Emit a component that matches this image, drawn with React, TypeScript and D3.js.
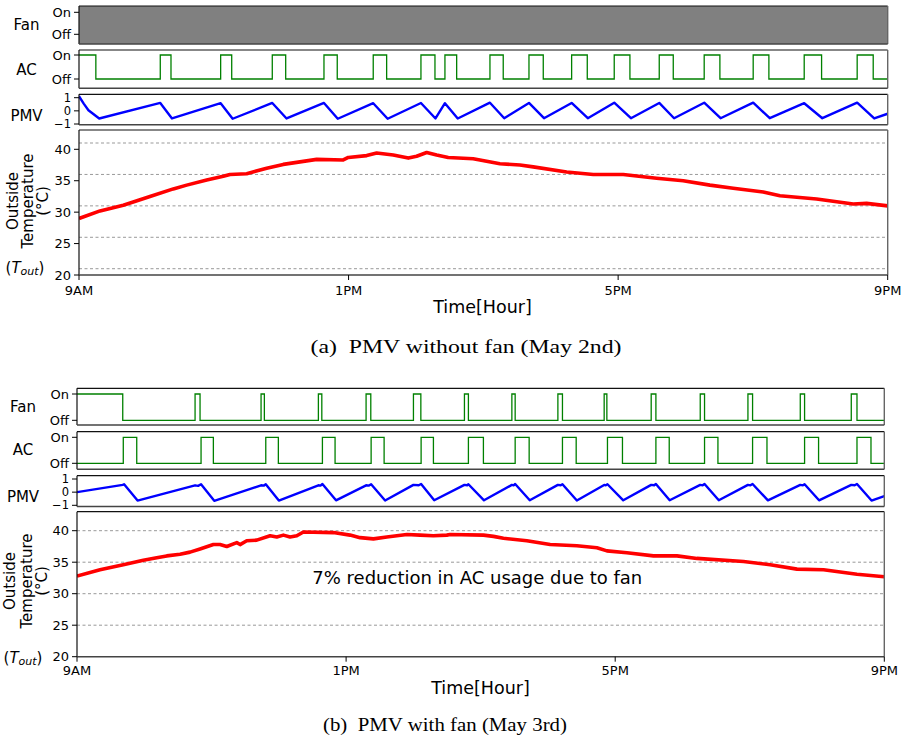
import React from 'react';
import * as d3 from 'd3';

// ---------- DATA ----------
const hourTicks = [0, 4, 8, 12];
const hourLabels = ['9AM', '1PM', '5PM', '9PM'];
const tempTicks = [20, 25, 30, 35, 40];
const pmvTicks = [1, 0, -1];
const pmvTickLabels = ['1', '0', '\u22121'];
const stateTicks = [1, 0];
const stateLabels = ['On', 'Off'];
const gridA = [21, 26, 31, 36, 41];
const gridB = [25, 30, 35, 40];

// (a) May 2nd, without fan  — [start hour, end hour] of ON periods
const fanOnA: number[][] = [[0, 12]];
const acOnA: number[][] = [
  [0, 0.25], [1.206, 1.365], [2.102, 2.266], [2.868, 3.067], [3.635, 3.832],
  [4.366, 4.565], [5.074, 5.282], [5.43, 5.604], [6.098, 6.295], [6.677, 6.889],
  [7.31, 7.542], [7.942, 8.175], [8.61, 8.818], [9.277, 9.51], [10.004, 10.237],
  [10.761, 11.019], [11.547, 11.785],
];
const pmvA: number[][] = [
  [0, 1.12], [0.07, 0.55], [0.14, 0.05], [0.3, -0.58], [1.206, 0.6], [1.38, -0.58],
  [2.102, 0.58], [2.28, -0.6], [2.868, 0.6], [3.08, -0.58], [3.635, 0.6], [3.84, -0.6],
  [4.366, 0.58], [4.58, -0.6], [5.074, 0.6], [5.29, -0.58], [5.43, 0.58], [5.62, -0.58],
  [6.098, 0.62], [6.31, -0.56], [6.677, 0.6], [6.9, -0.56], [7.31, 0.6], [7.55, -0.56],
  [7.942, 0.62], [8.19, -0.56], [8.61, 0.6], [8.83, -0.56], [9.277, 0.62], [9.52, -0.56],
  [10.004, 0.62], [10.25, -0.56], [10.761, 0.58], [11.03, -0.56], [11.547, 0.62],
  [11.8, -0.58], [12, -0.22],
];
const tempHoursA = [
  0, 0.312, 0.657, 1.053, 1.399, 1.598, 1.895, 2.141, 2.24, 2.488, 2.785, 3.031, 3.279,
  3.527, 3.921, 3.996, 4.269, 4.417, 4.663, 4.886, 5.01, 5.159, 5.307, 5.479, 5.85,
  6.246, 6.543, 6.74, 7.236, 7.631, 8.076, 8.571, 8.966, 9.362, 9.708, 10.153, 10.401,
  10.945, 11.488, 11.687, 12,
];
const tempValuesA = [
  29.0, 30.2, 31.1, 32.5, 33.7, 34.3, 35.1, 35.7, 36.0, 36.1, 37.0, 37.6, 38.0,
  38.4, 38.3, 38.7, 39.0, 39.4, 39.1, 38.6, 38.9, 39.5, 39.1, 38.7, 38.5,
  37.7, 37.5, 37.2, 36.4, 36.0, 36.0, 35.4, 35.0, 34.3, 33.8, 33.2, 32.6,
  32.1, 31.3, 31.4, 31.0,
];

// (b) May 3rd, with fan
const fanOnB: number[][] = [
  [0, 0.68], [1.755, 1.829], [2.736, 2.785], [3.588, 3.639], [4.297, 4.367],
  [5.001, 5.111], [5.759, 5.818], [6.464, 6.513], [7.148, 7.216], [7.836, 7.876],
  [8.535, 8.605], [9.264, 9.328], [9.973, 10.042], [10.751, 10.815], [11.509, 11.594],
];
const acOnB: number[][] = [
  [0.688, 0.888], [1.844, 2.027], [2.806, 2.993], [3.648, 3.836], [4.372, 4.565],
  [5.115, 5.298], [5.818, 6.041], [6.513, 6.721], [7.216, 7.42], [7.885, 8.108],
  [8.605, 8.803], [9.328, 9.527], [10.042, 10.256], [10.815, 11.023], [11.594, 11.802],
];
const pmvB: number[][] = [
  [0, 0.0], [0.68, 0.55], [0.7, 0.6], [0.9, -0.64],
  [1.755, 0.52], [1.8, 0.48], [1.844, 0.6], [2.04, -0.66],
  [2.736, 0.52], [2.78, 0.5], [2.806, 0.6], [3.0, -0.64],
  [3.588, 0.52], [3.62, 0.5], [3.648, 0.62], [3.85, -0.62],
  [4.297, 0.52], [4.34, 0.5], [4.372, 0.6], [4.58, -0.64],
  [5.001, 0.55], [5.08, 0.52], [5.115, 0.62], [5.31, -0.62],
  [5.759, 0.55], [5.8, 0.52], [5.818, 0.6], [6.05, -0.62],
  [6.464, 0.55], [6.49, 0.52], [6.513, 0.62], [6.73, -0.62],
  [7.148, 0.55], [7.19, 0.52], [7.216, 0.6], [7.43, -0.64],
  [7.836, 0.55], [7.86, 0.52], [7.885, 0.6], [8.12, -0.62],
  [8.535, 0.55], [8.58, 0.52], [8.605, 0.62], [8.81, -0.62],
  [9.264, 0.55], [9.3, 0.52], [9.328, 0.62], [9.54, -0.62],
  [9.973, 0.55], [10.01, 0.52], [10.042, 0.62], [10.27, -0.62],
  [10.751, 0.55], [10.79, 0.52], [10.815, 0.6], [11.03, -0.62],
  [11.509, 0.55], [11.56, 0.52], [11.594, 0.62], [11.81, -0.64], [12, -0.3],
];
const tempHoursB = [
  0, 0.342, 0.688, 0.986, 1.185, 1.334, 1.532, 1.68, 1.829, 2.027, 2.126, 2.226, 2.375,
  2.424, 2.523, 2.672, 2.87, 2.97, 3.068, 3.167, 3.267, 3.365, 3.811, 4.059, 4.208,
  4.406, 4.605, 4.903, 5.1, 5.298, 5.497, 5.546, 6.042, 6.19, 6.339, 6.687, 7.033,
  7.43, 7.728, 7.877, 8.174, 8.569, 8.918, 9.215, 9.908, 10.305, 10.702, 11.097,
  11.594, 12,
];
const tempValuesB = [
  32.8, 33.8, 34.6, 35.3, 35.7, 36.0, 36.25, 36.6, 37.1, 37.8, 37.8, 37.5, 38.1,
  37.8, 38.4, 38.5, 39.2, 39.0, 39.3, 39.0, 39.2, 39.8, 39.7, 39.3, 38.9,
  38.7, 39.0, 39.4, 39.3, 39.2, 39.3, 39.4, 39.3, 39.1, 38.8, 38.4, 37.8,
  37.6, 37.3, 36.8, 36.5, 36.0, 36.0, 35.6, 35.1, 34.6, 33.9, 33.8,
  33.1, 32.7,
];

const captionA = '(a)\u2002PMV without fan (May 2nd)';
const captionB = '(b)\u2002PMV with fan (May 3rd)';
const annotationB = '7% reduction in AC usage due to fan';

// ---------- DRAWING ----------
const SANS = 'DejaVu Sans, sans-serif';
const SERIF = 'Liberation Serif, DejaVu Serif, serif';

function stepPoints(intervals: number[][]): [number, number][] {
  const pts: [number, number][] = [];
  if (intervals.length === 0 || intervals[0][0] > 0) pts.push([0, 0]);
  intervals.forEach(([s, e]) => {
    pts.push([s, 1]);
    if (e < 12) pts.push([e, 0]);
  });
  const last = intervals[intervals.length - 1];
  pts.push([12, last && last[1] >= 12 ? 1 : 0]);
  return pts;
}

type Box = { top: number; bottom: number };
type Layout = {
  x0: number; x1: number;
  fan: Box & { on: number; off: number };
  ac: Box & { on: number; off: number };
  pmv: Box & { p1: number; m1: number };
  temp: Box & { y40: number };
  labelX: number; labelYs: number[];
  tempLabelXs: number[]; tempLabelY: number; toutX: number; toutY: number;
  xTickY: number; timeX: number; timeY: number;
  capX: number; capY: number; capW: number;
};

function Frame({ l, b }: { l: Layout; b: Box }) {
  return (
    <g>
      <line x1={l.x0} x2={l.x1} y1={b.top} y2={b.top} stroke="#111" strokeWidth={1.2} />
      <line x1={l.x0} x2={l.x0} y1={b.top} y2={b.bottom} stroke="#111" strokeWidth={1.2} />
      <line x1={l.x1} x2={l.x1} y1={b.top} y2={b.bottom} stroke="#666" strokeWidth={1.4} />
      <line x1={l.x0} x2={l.x1} y1={b.bottom} y2={b.bottom} stroke="#444" strokeWidth={1.4} />
    </g>
  );
}

function YTicks({ l, vals, labels, scale, size = 13 }: {
  l: Layout; vals: number[]; labels: string[]; scale: (v: number) => number; size?: number;
}) {
  return (
    <g>
      {vals.map((v, i) => (
        <g key={i}>
          <line x1={l.x0 - 5} x2={l.x0} y1={scale(v)} y2={scale(v)} stroke="#000" strokeWidth={1} />
          <text x={l.x0 - 8} y={scale(v)} textAnchor="end" dominantBaseline="central"
            fontFamily={SANS} fontSize={size} fill="#000">{labels[i]}</text>
        </g>
      ))}
    </g>
  );
}

function SubFigure({ l, fanOn, fanFilled, acOn, pmv, tempH, tempV, grid, caption, annotation }: {
  l: Layout; fanOn: number[][]; fanFilled: boolean; acOn: number[][]; pmv: number[][];
  tempH: number[]; tempV: number[]; grid: number[]; caption: string; annotation?: string;
}) {
  const x = d3.scaleLinear().domain([0, 12]).range([l.x0, l.x1]);
  const yFan = d3.scaleLinear().domain([0, 1]).range([l.fan.off, l.fan.on]);
  const yAc = d3.scaleLinear().domain([0, 1]).range([l.ac.off, l.ac.on]);
  const yPmv = d3.scaleLinear().domain([-1, 1]).range([l.pmv.m1, l.pmv.p1]);
  const yT = d3.scaleLinear().domain([20, 40]).range([l.temp.bottom, l.temp.y40]);

  const stepLine = (s: d3.ScaleLinear<number, number>) =>
    d3.line<[number, number]>().x((d) => x(d[0])).y((d) => s(d[1])).curve(d3.curveStepAfter);
  const fanArea = d3.area<number>().x((d) => x(d)).y0(l.fan.bottom).y1(l.fan.top);
  const pmvLine = d3.line<number[]>().x((d) => x(d[0])).y((d) => yPmv(d[1]));
  const tempPts = tempH.map((h, i) => [h, tempV[i]]);
  const tempLine = d3.line<number[]>().x((d) => x(d[0])).y((d) => yT(d[1]));

  const labelStyle = { fontFamily: SANS, fontSize: 15, fill: '#000' } as const;
  const clipId = 'clip' + Math.round(l.fan.top);

  return (
    <g>
      <defs>
        <clipPath id={clipId + 'p'}>
          <rect x={l.x0} y={l.pmv.top} width={l.x1 - l.x0} height={l.pmv.bottom - l.pmv.top} />
        </clipPath>
        <clipPath id={clipId + 't'}>
          <rect x={l.x0} y={l.temp.top} width={l.x1 - l.x0} height={l.temp.bottom - l.temp.top} />
        </clipPath>
      </defs>

      {/* Fan panel */}
      {fanFilled
        ? fanOn.map((iv, i) => <path key={i} d={fanArea(iv) || ''} fill="#808080" />)
        : <path d={stepLine(yFan)(stepPoints(fanOn)) || ''} fill="none" stroke="#008000" strokeWidth={1.3} />}
      <Frame l={l} b={l.fan} />
      <YTicks l={l} vals={stateTicks} labels={stateLabels} scale={yFan} />
      <text x={l.labelX} y={l.labelYs[0]} textAnchor="middle" dominantBaseline="central" {...labelStyle}>Fan</text>

      {/* AC panel */}
      <path d={stepLine(yAc)(stepPoints(acOn)) || ''} fill="none" stroke="#008000" strokeWidth={1.3} />
      <Frame l={l} b={l.ac} />
      <YTicks l={l} vals={stateTicks} labels={stateLabels} scale={yAc} />
      <text x={l.labelX} y={l.labelYs[1]} textAnchor="middle" dominantBaseline="central" {...labelStyle}>AC</text>

      {/* PMV panel */}
      <path d={pmvLine(pmv) || ''} fill="none" stroke="#0000ff" strokeWidth={2.4}
        strokeLinejoin="round" clipPath={`url(#${clipId}p)`} />
      <Frame l={l} b={l.pmv} />
      <YTicks l={l} vals={pmvTicks} labels={pmvTickLabels} scale={yPmv} size={11.5} />
      <text x={l.labelX} y={l.labelYs[2]} textAnchor="middle" dominantBaseline="central" {...labelStyle}>PMV</text>

      {/* Temperature panel */}
      {grid.map((g) => (
        <line key={g} x1={l.x0} x2={l.x1} y1={yT(g)} y2={yT(g)} stroke="#999" strokeWidth={1} strokeDasharray="3,2.5" />
      ))}
      <path d={tempLine(tempPts) || ''} fill="none" stroke="#ff0000" strokeWidth={3.6}
        strokeLinejoin="round" clipPath={`url(#${clipId}t)`} />
      <Frame l={l} b={l.temp} />
      <YTicks l={l} vals={tempTicks} labels={tempTicks.map(String)} scale={yT} />
      {hourTicks.map((h, i) => (
        <g key={h}>
          <line x1={x(h)} x2={x(h)} y1={l.temp.bottom} y2={l.temp.bottom + 5} stroke="#000" />
          <text x={x(h)} y={l.xTickY} textAnchor="middle" dominantBaseline="central"
            fontFamily={SANS} fontSize={13}>{hourLabels[i]}</text>
        </g>
      ))}
      <text x={l.timeX} y={l.timeY} textAnchor="middle" dominantBaseline="central"
        fontFamily={SANS} fontSize={17.5}>Time[Hour]</text>

      {['Outside', 'Temperature', '(\u00B0C)'].map((t, i) => (
        <text key={t} transform={`translate(${l.tempLabelXs[i]},${l.tempLabelY}) rotate(-90)`}
          textAnchor="middle" dominantBaseline="central" {...labelStyle}>{t}</text>
      ))}
      <text x={l.toutX} y={l.toutY} textAnchor="middle" dominantBaseline="central" {...labelStyle}>
        (<tspan fontStyle="italic">T</tspan><tspan fontStyle="italic" fontSize={11} dy={3}>out</tspan><tspan dy={-3}>)</tspan>
      </text>

      {annotation && (
        <text x={x(5.95)} y={yT(32.5)} textAnchor="middle" dominantBaseline="central"
          fontFamily={SANS} fontSize={18}>{annotation}</text>
      )}

      <text x={l.capX} y={l.capY} textAnchor="middle" dominantBaseline="central"
        fontFamily={SERIF} fontSize={18.5} textLength={l.capW} lengthAdjust="spacingAndGlyphs">{caption}</text>
    </g>
  );
}

const layoutA: Layout = {
  x0: 79, x1: 887.7,
  fan: { top: 6, bottom: 44, on: 12.3, off: 34.3 },
  ac: { top: 50, bottom: 88.3, on: 55, off: 79 },
  pmv: { top: 94.3, bottom: 124.7, p1: 97.7, m1: 124 },
  temp: { top: 130, bottom: 275, y40: 149.3 },
  labelX: 26.5, labelYs: [25, 70, 116],
  tempLabelXs: [12.7, 28.3, 43.3], tempLabelY: 201, toutX: 25, toutY: 268,
  xTickY: 290, timeX: 482.5, timeY: 306.7,
  capX: 466, capY: 347, capW: 311,
};

const layoutB: Layout = {
  x0: 77, x1: 884.3,
  fan: { top: 388.3, bottom: 425, on: 394, off: 420.3 },
  ac: { top: 431.7, bottom: 469.3, on: 437.3, off: 463.3 },
  pmv: { top: 475.7, bottom: 506.5, p1: 479, m1: 505.3 },
  temp: { top: 511.7, bottom: 656.7, y40: 530.7 },
  labelX: 23, labelYs: [406.7, 450, 496.7],
  tempLabelXs: [10, 26.7, 41.7], tempLabelY: 581, toutX: 23, toutY: 658,
  xTickY: 670.7, timeX: 480.5, timeY: 688,
  capX: 445, capY: 725, capW: 244,
};

export default function App() {
  return (
    <svg width={904} height={742} viewBox="0 0 904 742"
      style={{ position: 'absolute', left: 0, top: 0, background: '#fff' }}>
      <rect x={0} y={0} width={904} height={742} fill="#fff" />
      <SubFigure l={layoutA} fanOn={fanOnA} fanFilled={true} acOn={acOnA} pmv={pmvA}
        tempH={tempHoursA} tempV={tempValuesA} grid={gridA} caption={captionA} />
      <SubFigure l={layoutB} fanOn={fanOnB} fanFilled={false} acOn={acOnB} pmv={pmvB}
        tempH={tempHoursB} tempV={tempValuesB} grid={gridB} caption={captionB} annotation={annotationB} />
    </svg>
  );
}
